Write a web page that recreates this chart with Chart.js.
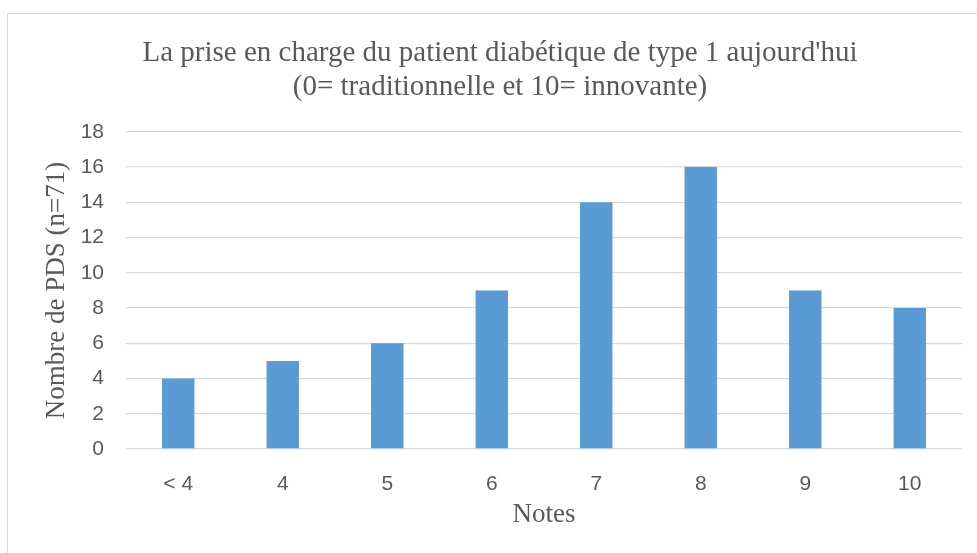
<!DOCTYPE html>
<html lang="fr">
<head>
  <meta charset="UTF-8">
  <title>La prise en charge du patient diabétique de type 1</title>
  <script src="https://cdn.jsdelivr.net/npm/chart.js@4.4.0/dist/chart.umd.min.js"></script>
  <style>
    body { margin: 0; background: #fff; }
    #wrap { position: relative; width: 977px; height: 553px; overflow: hidden; }
    #frame { position: absolute; left: 7px; top: 13px; width: 1000px; height: 600px;
             border-left: 1px solid #d9d9d9; border-top: 1px solid #d9d9d9; }
    #myChart { position: absolute; left: 0; top: 0; }
  </style>
</head>
<body>
  <div id="wrap">
    <div id="frame"></div>
    <canvas id="myChart" width="977" height="553"></canvas>
  </div>

  <script>
    const notes = ['< 4', '4', '5', '6', '7', '8', '9', '10'];
    const counts = [4, 5, 6, 9, 14, 16, 9, 8];
    const yTicks = [0, 2, 4, 6, 8, 10, 12, 14, 16, 18];

    const grey = '#595959';
    const serif = '"Liberation Serif", "Times New Roman", serif';
    const sans = '"Liberation Sans", Arial, sans-serif';

    const ctx = document.getElementById('myChart').getContext('2d');
    const myChart = new Chart(ctx, {
      type: 'bar',
      data: {
        labels: notes,
        datasets: [{
          label: 'Nombre de PDS',
          data: counts,
          backgroundColor: '#5b9bd5',
          barPercentage: 0.62,
          categoryPercentage: 0.5
        }]
      },
      options: {
        responsive: false,
        animation: false,
        // left padding shifts the title centre to match the original
        layout: { padding: { left: 38, right: 15, top: 0, bottom: 0 } },
        plugins: {
          legend: { display: false },
          tooltip: { enabled: false },
          title: {
            display: true,
            text: ["La prise en charge du patient diabétique de type 1 aujourd'hui",
                   '(0= traditionnelle et 10= innovante)'],
            color: grey,
            font: { family: serif, size: 29, weight: 'normal', lineHeight: 1.17 },
            padding: { top: 36, bottom: 28 }
          }
        },
        scales: {
          x: {
            grid: { display: false },
            border: { display: false },
            ticks: { color: grey, font: { family: sans, size: 21 }, padding: 15 },
            title: {
              display: true,
              text: 'Notes',
              color: grey,
              font: { family: serif, size: 27 },
              padding: { top: 0, bottom: 22 }
            },
            afterFit: s => { s.height = 104; }
          },
          y: {
            min: 0,
            max: 18,
            afterBuildTicks: s => { s.ticks = yTicks.map(v => ({ value: v })); },
            grid: { color: '#d9d9d9', lineWidth: 1.3, drawTicks: false },
            border: { display: false },
            ticks: { color: grey, font: { family: sans, size: 21 }, padding: 22 },
            title: {
              display: true,
              text: 'Nombre de PDS (n=71)',
              color: grey,
              font: { family: serif, size: 27 },
              padding: { top: 3, bottom: 0 }
            },
            afterFit: s => { s.width = 88; }
          }
        }
      }
    });
  </script>
</body>
</html>
